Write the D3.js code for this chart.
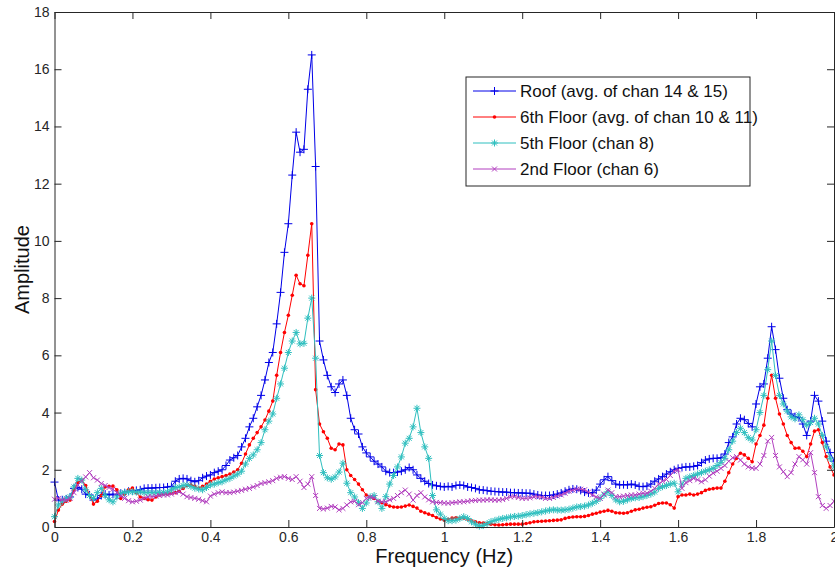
<!DOCTYPE html>
<html>
<head>
<meta charset="utf-8">
<script src="https://cdn.jsdelivr.net/npm/d3@7"></script>
<style>
  body { margin: 0; background: #fff; }
  svg { display: block; font-family: "Liberation Sans", Arial, sans-serif; }
  .tick text { fill: #262626; font-size: 14px; }
</style>
</head>
<body>
<svg id="chart" width="835" height="569"></svg>
<script>
// frequency grid (Hz), 0.01 step
var DF = 0.01;
var freq = d3.range(201).map(function(i) { return +(i * DF).toFixed(2); });

var xTicks = [0, 0.2, 0.4, 0.6, 0.8, 1, 1.2, 1.4, 1.6, 1.8, 2];
var yTicks = [0, 2, 4, 6, 8, 10, 12, 14, 16, 18];

var seriesNames = [
  "Roof (avg. of chan 14 & 15)",
  "6th Floor (avg. of chan 10 & 11)",
  "5th Floor (chan 8)",
  "2nd Floor (chan 6)"
];

var roof = [
  1.57, 0.94, 0.95, 0.98, 1.05, 1.35, 1.38, 1.32, 1.15, 1.12,
  0.94, 1.0, 1.1, 1.15, 1.12, 1.15, 1.12, 1.18, 1.2, 1.25,
  1.26, 1.28, 1.3, 1.35, 1.36, 1.36, 1.37, 1.38, 1.38, 1.4,
  1.42, 1.6, 1.68, 1.7, 1.68, 1.62, 1.58, 1.62, 1.72, 1.78,
  1.82, 1.9, 1.95, 2.0, 2.15, 2.34, 2.42, 2.5, 2.8, 3.1,
  3.5, 3.8, 4.2, 4.6, 5.14, 5.75, 6.1, 7.1, 8.2, 9.6,
  10.6, 12.3, 13.8, 13.1, 13.2, 15.3, 16.5, 12.6, 6.5, 5.84,
  5.3, 4.9, 4.7, 5.0, 5.14, 4.6, 3.8, 3.4, 3.25, 2.8,
  2.59, 2.45, 2.3, 2.2, 2.1, 1.95, 1.9, 1.9, 1.92, 1.95,
  2.0, 2.08, 2.0, 1.82, 1.7, 1.6, 1.52, 1.47, 1.44, 1.42,
  1.4, 1.42, 1.4, 1.45, 1.47, 1.45, 1.4, 1.38, 1.35, 1.3,
  1.29, 1.27, 1.25, 1.24, 1.23, 1.22, 1.22, 1.2, 1.2, 1.19,
  1.19, 1.18, 1.18, 1.15, 1.12, 1.1, 1.1, 1.1, 1.12, 1.15,
  1.19, 1.25, 1.3, 1.33, 1.32, 1.28, 1.22, 1.19, 1.2, 1.29,
  1.5, 1.65, 1.76, 1.62, 1.5, 1.47, 1.48, 1.47, 1.5, 1.47,
  1.42, 1.41, 1.43, 1.5, 1.6, 1.68, 1.76, 1.85, 1.93, 2.0,
  2.05, 2.08, 2.1, 2.1, 2.12, 2.15, 2.25, 2.34, 2.38, 2.4,
  2.4, 2.42, 2.55, 2.95, 3.15, 3.6, 3.8, 3.75, 3.62, 3.5,
  4.3, 4.9, 5.0, 5.9, 7.0, 6.2, 5.2, 4.5, 4.1, 3.95,
  3.86, 3.82, 3.6, 3.2, 3.7, 4.6, 4.4, 3.7, 3.0, 2.6,
  2.3
];

var floor6 = [
  0.19, 0.59, 0.8, 0.9, 0.94, 1.3, 1.55, 1.64, 1.45, 1.1,
  0.8, 0.9, 1.1, 1.4, 1.42, 1.43, 1.3, 1.0, 1.15, 1.3,
  1.36, 1.2, 1.05, 1.0, 0.95, 0.94, 1.05, 1.12, 1.15, 1.15,
  1.18, 1.2, 1.25, 1.35, 1.45, 1.47, 1.42, 1.36, 1.42, 1.5,
  1.6, 1.68, 1.72, 1.76, 1.8, 1.85, 1.92, 2.0, 2.23, 2.55,
  2.87, 3.1, 3.3, 3.5, 3.74, 4.05, 4.4, 5.3, 6.1, 6.8,
  7.4, 8.1, 8.8, 8.5, 8.43, 9.5, 10.6, 4.8, 3.6, 3.33,
  3.1, 2.75, 2.7, 2.9, 2.87, 2.0, 1.8, 1.66, 1.5, 1.3,
  1.12, 1.05, 1.0, 0.9, 0.85, 0.78, 0.73, 0.7, 0.69, 0.7,
  0.73, 0.77, 0.72, 0.66, 0.55, 0.5, 0.45, 0.4, 0.33, 0.28,
  0.24, 0.27, 0.31, 0.32, 0.3, 0.31, 0.27, 0.22, 0.18, 0.15,
  0.14, 0.12, 0.1, 0.08, 0.07, 0.08, 0.09, 0.1, 0.1, 0.1,
  0.1, 0.12, 0.15, 0.18, 0.19, 0.2, 0.21, 0.22, 0.23, 0.24,
  0.25, 0.3, 0.33, 0.35, 0.36, 0.36, 0.37, 0.4, 0.45, 0.48,
  0.52, 0.55, 0.58, 0.55, 0.5, 0.49, 0.48, 0.5, 0.55, 0.6,
  0.62, 0.66, 0.69, 0.71, 0.76, 0.82, 0.84, 0.84, 0.78, 0.66,
  1.06, 1.12, 1.12, 1.15, 1.12, 1.15, 1.2, 1.28, 1.32, 1.34,
  1.36, 1.36, 1.6, 1.9, 2.2, 2.4, 2.58, 2.52, 2.4, 2.28,
  2.9, 3.2, 3.56, 4.5, 5.3, 4.5, 3.95, 3.6, 3.2, 2.95,
  2.75, 2.76, 2.65, 2.46, 2.9, 3.35, 3.4, 2.95, 2.46, 2.1,
  1.82
];

var floor5 = [
  0.36, 0.77, 0.9, 1.0, 1.06, 1.4, 1.7, 1.64, 1.3, 1.1,
  1.0, 1.2, 1.35, 1.1, 0.95, 0.88, 1.05, 1.18, 1.2, 1.23,
  1.23, 1.22, 1.23, 1.2, 1.2, 1.2, 1.19, 1.2, 1.2, 1.22,
  1.3, 1.38, 1.4, 1.45, 1.47, 1.42, 1.36, 1.33, 1.3, 1.38,
  1.47, 1.5, 1.55, 1.58, 1.65, 1.7, 1.78, 1.85, 1.95, 2.2,
  2.4, 2.52, 2.7, 2.95, 3.4, 3.7, 3.95, 4.5, 5.0, 5.55,
  6.1, 6.5, 6.8, 6.4, 6.42, 7.3, 8.0, 5.9, 2.5, 1.9,
  1.72, 1.67, 1.75, 1.92, 2.23, 1.53, 1.2, 1.05, 0.85, 0.65,
  0.84, 1.05, 1.1, 0.88, 0.65, 1.06, 1.5, 1.8, 2.1, 2.45,
  2.93, 3.1, 3.5, 4.15, 3.3, 2.8, 2.4, 1.1, 0.6, 0.45,
  0.3, 0.22, 0.22, 0.24, 0.3, 0.36, 0.3, 0.18, 0.1, 0.03,
  0.05, 0.12, 0.19, 0.23, 0.27, 0.3, 0.32, 0.35, 0.37, 0.38,
  0.4, 0.43, 0.46, 0.48, 0.5, 0.53, 0.56, 0.59, 0.6, 0.59,
  0.59, 0.6, 0.62, 0.66, 0.7, 0.71, 0.73, 0.77, 0.83, 0.9,
  1.0, 1.12, 1.23, 1.1, 0.95, 0.88, 0.9, 0.95, 1.0, 1.02,
  1.03, 1.06, 1.1, 1.15, 1.22, 1.35, 1.41, 1.45, 1.5, 1.53,
  1.23, 1.5, 1.7, 1.75, 1.8, 1.85, 1.9, 1.95, 2.0, 2.05,
  2.15, 2.25, 2.4, 2.7, 3.0, 3.3, 3.45, 3.3, 3.12, 3.04,
  3.4, 4.0, 4.6, 5.5, 6.5, 5.3, 4.6, 4.3, 4.05, 3.85,
  3.78, 3.92, 3.75, 3.56, 3.65, 3.8, 3.6, 3.2, 2.8, 2.4,
  2.1
];

var floor2 = [
  0.97, 1.0, 0.95, 0.94, 1.0, 1.2, 1.47, 1.6, 1.75, 1.9,
  1.72, 1.64, 1.52, 1.45, 1.38, 1.32, 1.2, 1.08, 1.0, 0.92,
  0.88, 0.9, 0.94, 1.0, 1.05, 1.06, 1.08, 1.1, 1.12, 1.12,
  1.15, 1.2, 1.23, 1.15, 1.06, 1.03, 1.0, 0.97, 0.92, 0.88,
  1.08, 1.15, 1.2, 1.23, 1.2, 1.2, 1.22, 1.25, 1.28, 1.32,
  1.35, 1.4, 1.45, 1.52, 1.55, 1.58, 1.62, 1.7, 1.74, 1.76,
  1.7, 1.66, 1.76, 1.6, 1.38, 1.5, 1.76, 1.1, 0.65, 0.63,
  0.66, 0.72, 0.7, 0.6, 0.65, 0.77, 0.88, 0.9, 0.78, 0.85,
  1.0, 1.05, 1.02, 0.9, 0.88, 0.88, 0.95, 1.0, 1.1, 1.2,
  1.29, 1.15, 0.94, 1.1, 1.2, 1.05, 0.95, 0.88, 0.86, 0.85,
  0.84, 0.83, 0.85, 0.86, 0.88, 0.88, 0.9, 0.92, 0.93, 0.94,
  0.94, 0.95, 0.95, 0.94, 0.94, 0.96, 1.0, 1.05, 1.06, 1.03,
  1.0, 1.0, 1.02, 1.05, 1.06, 1.04, 1.0, 1.0, 1.03, 1.08,
  1.12, 1.18, 1.25, 1.29, 1.32, 1.32, 1.3, 1.22, 1.12, 1.05,
  1.0, 1.15, 1.29, 1.2, 1.06, 1.06, 1.08, 1.1, 1.12, 1.12,
  1.15, 1.18, 1.18, 1.25, 1.35, 1.5, 1.6, 1.66, 1.8, 1.95,
  2.0, 1.35, 1.55, 1.62, 1.7, 1.65, 1.58, 1.65, 1.78, 1.88,
  1.95, 2.05, 2.15, 2.3, 2.42, 2.46, 2.34, 2.2, 2.1, 2.06,
  2.05, 2.2, 2.5, 3.0, 3.13, 2.5, 2.1, 1.93, 1.76, 1.9,
  2.2, 2.46, 2.35, 2.2, 2.6, 1.9, 1.06, 0.75, 0.65, 0.75,
  0.9
];

var svg = d3.select("#chart");
var plotLeft = 54.5, plotRight = 834, plotTop = 12, plotBottom = 527;

svg.append("rect").attr("width", 835).attr("height", 569).attr("fill", "#fff");

var x = d3.scaleLinear().domain([0, 2]).range([plotLeft, plotRight]);
var y = d3.scaleLinear().domain([0, 18]).range([plotBottom, plotTop]);

var markers = {
  plus: "M-4,0H4M0,-4V4",
  star: "M-3.5,0H3.5M0,-3.5V3.5M-2.5,-2.5L2.5,2.5M-2.5,2.5L2.5,-2.5",
  cross: "M-2.5,-2.5L2.5,2.5M-2.5,2.5L2.5,-2.5"
};

var series = [
  { name: seriesNames[0], values: roof, color: "#0000e8", marker: "plus" },
  { name: seriesNames[1], values: floor6, color: "#ff0000", marker: "dot" },
  { name: seriesNames[2], values: floor5, color: "#2fbfbf", marker: "star" },
  { name: seriesNames[3], values: floor2, color: "#b23fbf", marker: "cross" }
];

function drawMarker(sel, s) {
  if (s.marker === "dot") {
    sel.append("circle").attr("r", 1.8).attr("fill", s.color);
  } else {
    sel.append("path").attr("d", markers[s.marker])
      .attr("stroke", s.color).attr("stroke-width", 1).attr("fill", "none");
  }
}

var line = d3.line()
  .x(function(d, i) { return x(freq[i]); })
  .y(function(d) { return y(d); });

var plot = svg.append("g").attr("class", "plot");

series.forEach(function(s) {
  var g = plot.append("g");
  g.append("path")
    .datum(s.values)
    .attr("d", line)
    .attr("fill", "none")
    .attr("stroke", s.color)
    .attr("stroke-width", 1);

  g.selectAll("g.m")
    .data(s.values)
    .enter()
    .append("g")
    .attr("class", "m")
    .attr("transform", function(d, i) { return "translate(" + x(freq[i]) + "," + y(d) + ")"; })
    .each(function() { drawMarker(d3.select(this), s); });
});

// axes: box with inward ticks like matlab
var axisColor = "#262626";

var xAxis = svg.append("g")
  .attr("transform", "translate(0," + plotBottom + ")")
  .call(d3.axisBottom(x).tickValues(xTicks).tickFormat(d3.format("")).tickSizeInner(-7).tickSizeOuter(0).tickPadding(5));
var xAxisTop = svg.append("g")
  .attr("transform", "translate(0," + plotTop + ")")
  .call(d3.axisTop(x).tickValues(xTicks).tickFormat("").tickSizeInner(-7).tickSizeOuter(0));
var yAxis = svg.append("g")
  .attr("transform", "translate(" + plotLeft + ",0)")
  .call(d3.axisLeft(y).tickValues(yTicks).tickSizeInner(-7).tickSizeOuter(0).tickPadding(5));
var yAxisRight = svg.append("g")
  .attr("transform", "translate(" + plotRight + ",0)")
  .call(d3.axisRight(y).tickValues(yTicks).tickFormat("").tickSizeInner(-7).tickSizeOuter(0));

[xAxis, xAxisTop, yAxis, yAxisRight].forEach(function(a) {
  a.selectAll("path, line").attr("stroke", axisColor);
  a.selectAll("text").attr("font-family", "Liberation Sans, Arial, sans-serif");
});

svg.append("text")
  .attr("x", (plotLeft + plotRight) / 2)
  .attr("y", 563)
  .attr("text-anchor", "middle")
  .attr("font-size", 20)
  .attr("fill", "#111")
  .text("Frequency (Hz)");

svg.append("text")
  .attr("transform", "translate(29," + (plotTop + plotBottom) / 2 + ") rotate(-90)")
  .attr("text-anchor", "middle")
  .attr("font-size", 20)
  .attr("fill", "#111")
  .text("Amplitude");

// legend
var legend = svg.append("g").attr("class", "legend");
legend.append("rect")
  .attr("x", 466).attr("y", 77)
  .attr("width", 284).attr("height", 109)
  .attr("fill", "#fff")
  .attr("stroke", axisColor);

series.forEach(function(s, i) {
  var row = legend.append("g").attr("transform", "translate(0," + (91 + i * 26) + ")");
  row.append("line")
    .attr("x1", 473).attr("x2", 516)
    .attr("stroke", s.color).attr("stroke-width", 1);
  var m = row.append("g").attr("transform", "translate(494.5,0)");
  drawMarker(m, s);
  row.append("text")
    .attr("x", 520)
    .attr("dy", "0.35em")
    .attr("font-size", 17)
    .attr("fill", "#111")
    .text(s.name);
});
</script>
</body>
</html>
